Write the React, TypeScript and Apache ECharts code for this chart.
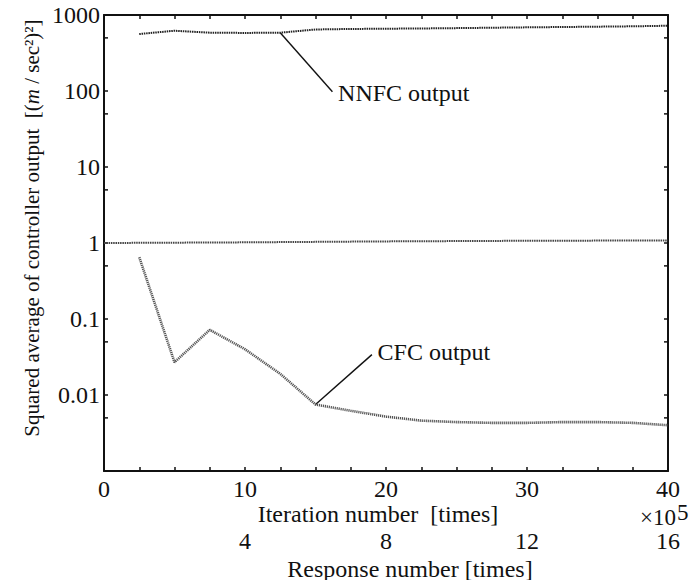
import React, { useEffect, useRef } from "react";
import * as echarts from "echarts";

// Iteration number (x 10^5) at which each average was taken
const iterationSteps = [2.5, 5, 7.5, 10, 12.5, 15, 17.5, 20, 22.5, 25, 27.5, 30, 32.5, 35, 37.5, 40];
// Squared average of the neural-network controller output
const nnfcOutput = [562, 621, 585, 581, 585, 645, 655, 660, 665, 672, 680, 688, 695, 702, 710, 722];
// Squared average of the conventional controller output
const cfcOutput = [0.65, 0.027, 0.072, 0.04, 0.019, 0.0075, 0.0062, 0.0052, 0.0046, 0.0044, 0.0043, 0.0043, 0.0044, 0.0044, 0.0043, 0.004];
// Level-one reference trace
const unitySteps = [0, 10, 20, 30, 40];
const unityLevel = [1.0, 1.02, 1.05, 1.07, 1.08];
// Intermediate (5 x 10^n) ticks on the log axis
const minorTickValues = [500, 50, 5, 0.5, 0.05, 0.005];

const FONT = "'Liberation Serif', 'Times New Roman', serif";
const INK = "#111";
const FS = 24;

const fmtLog = (v: number) => {
  const n = Number(v.toPrecision(1));
  if (n < 0.005) return "";
  return String(n);
};

export default function App() {
  const ref = useRef<HTMLDivElement>(null);

  useEffect(() => {
    if (!ref.current) return;
    const chart = echarts.init(ref.current, undefined, { renderer: "svg" });

    const tickStyle = { inside: true, length: 4, lineStyle: { color: INK, width: 1.5 } };
    const lineStyle = { color: INK, width: 2 };

    chart.setOption({
      animation: false,
      backgroundColor: "#fff",
      grid: { left: 104, right: 29, top: 15, bottom: 117 },
      xAxis: [
        {
          type: "value",
          position: "bottom",
          min: 0,
          max: 40,
          interval: 2.5,
          axisLine: { show: true, onZero: false, lineStyle },
          axisTick: tickStyle,
          splitLine: { show: false },
          axisLabel: {
            margin: 6,
            fontFamily: FONT,
            fontSize: FS,
            color: INK,
            formatter: (v: number) => (v % 10 === 0 ? String(v) : ""),
          },
        },
        {
          type: "value",
          position: "top",
          min: 0,
          max: 40,
          interval: 2.5,
          axisLine: { show: true, onZero: false, lineStyle },
          axisTick: tickStyle,
          splitLine: { show: false },
          axisLabel: { show: false },
        },
        {
          // Response number scale (iteration x 0.4)
          type: "value",
          position: "bottom",
          offset: 50,
          min: 0,
          max: 16,
          interval: 4,
          axisLine: { show: false },
          axisTick: { show: false },
          splitLine: { show: false },
          axisLabel: {
            margin: 8,
            fontFamily: FONT,
            fontSize: FS,
            color: INK,
            formatter: (v: number) => (v === 0 ? "" : String(v)),
          },
        },
      ],
      yAxis: [
        {
          type: "log",
          logBase: 10,
          min: 0.001,
          max: 1000,
          position: "left",
          axisLine: { show: true, onZero: false, lineStyle },
          axisTick: tickStyle,
          splitLine: { show: false },
          axisLabel: { margin: 4, fontFamily: FONT, fontSize: FS, color: INK, formatter: fmtLog },
        },
        {
          type: "log",
          logBase: 10,
          min: 0.001,
          max: 1000,
          position: "right",
          axisLine: { show: true, onZero: false, lineStyle },
          axisTick: tickStyle,
          splitLine: { show: false },
          axisLabel: { show: false },
        },
      ],
      series: [
        {
          name: "unity",
          type: "line",
          xAxisIndex: 0,
          yAxisIndex: 0,
          data: unitySteps.map((x, i) => [x, unityLevel[i]]),
          symbol: "none",
          lineStyle: { color: "#444", width: 2, type: [1.5, 0.8] },
          silent: true,
        },
        {
          name: "NNFC output",
          type: "line",
          xAxisIndex: 0,
          yAxisIndex: 0,
          data: iterationSteps.map((x, i) => [x, nnfcOutput[i]]),
          symbol: "none",
          lineStyle: { color: "#222", width: 2, type: [1.5, 0.8] },
          silent: true,
        },
        {
          name: "CFC output",
          type: "line",
          xAxisIndex: 0,
          yAxisIndex: 0,
          data: iterationSteps.map((x, i) => [x, cfcOutput[i]]),
          symbol: "none",
          lineStyle: { color: "#555", width: 2.6, type: [1.2, 0.8] },
          silent: true,
        },
        {
          name: "minor ticks",
          type: "custom",
          xAxisIndex: 0,
          yAxisIndex: 0,
          silent: true,
          clip: false,
          data: minorTickValues.map((v) => [0, v]),
          renderItem: (_p: any, api: any) => {
            const v = api.value(1);
            const l = api.coord([0, v]);
            const r = api.coord([40, v]);
            const st = { stroke: INK, lineWidth: 1.5 };
            return {
              type: "group",
              children: [
                { type: "line", shape: { x1: l[0], y1: l[1], x2: l[0] + 4, y2: l[1] }, style: st },
                { type: "line", shape: { x1: r[0] - 4, y1: r[1], x2: r[0], y2: r[1] }, style: st },
              ],
            };
          },
        },
      ],
    });

    // Leader lines and captions, anchored on the curves in data coordinates
    const px = (x: number, y: number) => chart.convertToPixel({ gridIndex: 0 }, [x, y]) as number[];
    const nnfcFrom = px(iterationSteps[4], nnfcOutput[4]);
    const nnfcTo = px(16.2, 98);
    const nnfcText = px(16.6, 95);
    const cfcFrom = px(iterationSteps[5], cfcOutput[5]);
    const cfcTo = px(19.0, 0.034);
    const cfcText = px(19.4, 0.037);

    const caption = { fontFamily: FONT, fontSize: FS, fill: INK, textVerticalAlign: "middle" };

    chart.setOption({
      graphic: [
        { type: "line", shape: { x1: nnfcFrom[0], y1: nnfcFrom[1], x2: nnfcTo[0], y2: nnfcTo[1] }, style: { stroke: INK, lineWidth: 1.4 } },
        { type: "text", x: nnfcText[0], y: nnfcText[1], style: { ...caption, text: "NNFC output", textAlign: "left" } },
        { type: "line", shape: { x1: cfcFrom[0], y1: cfcFrom[1], x2: cfcTo[0], y2: cfcTo[1] }, style: { stroke: INK, lineWidth: 1.4 } },
        { type: "text", x: cfcText[0], y: cfcText[1], style: { ...caption, text: "CFC output", textAlign: "left" } },
        { type: "text", x: 378, y: 514, style: { ...caption, text: "Iteration number  [times]", textAlign: "center" } },
        { type: "text", x: 410, y: 569, style: { ...caption, text: "Response number [times]", textAlign: "center" } },
        { type: "text", x: 640, y: 517, style: { ...caption, fontSize: 23, text: "×10", textAlign: "left" } },
        { type: "text", x: 677, y: 512, style: { ...caption, fontSize: 23, text: "5", textAlign: "left" } },
        {
          type: "text",
          x: 32,
          y: 228,
          rotation: Math.PI / 2,
          style: {
            text: "{a|Squared average of controller output  [(}{i|m}{a| / sec²)²]}",
            fontFamily: FONT,
            fontSize: 21,
            fill: INK,
            textAlign: "center",
            textVerticalAlign: "middle",
            rich: {
              a: { fontFamily: FONT, fontSize: 21, color: INK },
              i: { fontFamily: FONT, fontSize: 21, fontStyle: "italic", color: INK },
            },
          },
        },
      ],
    });

    return () => chart.dispose();
  }, []);

  return <div ref={ref} style={{ width: 697, height: 588, margin: -8 }} />;
}
